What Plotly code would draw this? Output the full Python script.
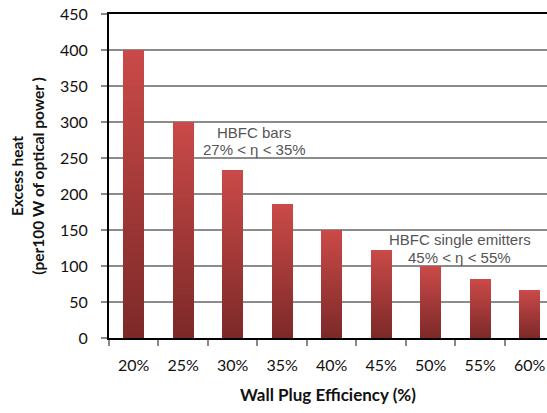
import plotly.graph_objects as go

# Wall plug efficiency categories and resulting excess heat per 100 W optical
efficiency_labels = ["20%", "25%", "30%", "35%", "40%", "45%", "50%", "55%", "60%"]
excess_heat = [400, 300, 233.3, 185.7, 150, 122.2, 100, 81.8, 66.7]
y_ticks = [0, 50, 100, 150, 200, 250, 300, 350, 400, 450]

# Vertical colour ramp for the bars (bottom -> top)
bottom_rgb = (124, 41, 40)
top_rgb = (202, 74, 72)
n_steps = 40

fig = go.Figure()
for i in range(n_steps):
    t = (i + 0.5) / n_steps
    rgb = tuple(round(b + (tp - b) * t) for b, tp in zip(bottom_rgb, top_rgb))
    fig.add_trace(go.Bar(
        x=efficiency_labels,
        y=[v / n_steps for v in excess_heat],
        marker=dict(color="rgb(%d,%d,%d)" % rgb, line=dict(width=0)),
        showlegend=False,
        hoverinfo="skip",
    ))

fig.update_layout(
    width=547, height=413,
    barmode="stack",
    bargap=0.58,
    margin=dict(l=109, r=0, t=14, b=75),
    paper_bgcolor="white",
    plot_bgcolor="white",
    font=dict(family="Lato, Liberation Sans, sans-serif", size=16, color="#111"),
    xaxis=dict(
        type="category",
        range=[-0.5, 8.35],
        showline=True, linecolor="black", linewidth=2, mirror=True,
        ticks="outside", tickson="boundaries", ticklen=6, tickwidth=2, tickcolor="#888",
        ticklabelstandoff=12,
        tickfont=dict(size=16),
        title=dict(text="<b>Wall Plug Efficiency (%)</b>", font=dict(size=17), standoff=16),
        showgrid=False,
    ),
    yaxis=dict(
        range=[0, 450],
        tickvals=y_ticks,
        showline=True, linecolor="black", linewidth=2,
        ticks="outside", ticklen=6, tickwidth=2, tickcolor="#888",
        ticklabelstandoff=10,
        tickfont=dict(size=16),
        showgrid=True, gridcolor="#8c8c8c", gridwidth=2,
        zeroline=False,
        title=dict(text="<b>Excess heat<br>(per100 W of optical power )</b>",
                   font=dict(size=15.5), standoff=12),
    ),
)

# Two-line text labels, each line placed separately for tight spacing
note_font = dict(family="Liberation Sans, Arial, sans-serif", size=15, color="#555")
notes = [
    (2.43, 285, "HBFC bars"),
    (2.43, 262, "27% < η < 35%"),
    (6.59, 137.5, "HBFC single emitters"),
    (6.59, 112.5, "45% < η < 55%"),
]
for nx, ny, txt in notes:
    fig.add_annotation(x=nx, y=ny, xref="x", yref="y", text=txt,
                       showarrow=False, font=note_font)

fig.write_html("out.html")
